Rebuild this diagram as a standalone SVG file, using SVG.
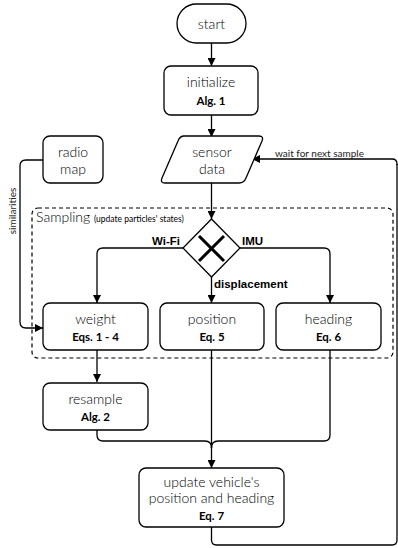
<svg xmlns="http://www.w3.org/2000/svg" width="398" height="548" viewBox="0 0 398 548">
<style>
.box{fill:#fff;stroke:#000;stroke-width:1.3}
.t{font-family:Lato,"Open Sans",sans-serif;font-size:14px;font-weight:300;fill:#000;text-anchor:middle}
.b{font-family:Lato,"Open Sans",sans-serif;font-size:11.5px;font-weight:700;fill:#000;text-anchor:middle}
.lbl{font-family:"Liberation Sans",Arial,sans-serif;font-size:11.5px;font-weight:700;fill:#000}
.sm{font-family:Lato,"Open Sans",sans-serif;font-size:10px;fill:#222}
.c{fill:none;stroke:#000;stroke-width:1.3}
</style>
<defs>
<marker id="ah" viewBox="0 0 10 10" refX="10" refY="5" markerWidth="8" markerHeight="8" markerUnits="userSpaceOnUse" orient="auto">
<path d="M0,0 L10,5 L0,10 z" fill="#000"/>
</marker>
</defs>
<rect id="sampling" x="32" y="208" width="361" height="150" rx="6" fill="none" stroke="#000" stroke-width="1.2" stroke-dasharray="4,3"/>
<text x="36" y="222" font-family="Lato,'Open Sans',sans-serif" font-size="14" font-weight="300">Sampling <tspan font-size="8.5" font-weight="400">(update particles' states)</tspan></text>
<g id="connectors">
<path class="c" d="M211.5,43 V66" marker-end="url(#ah)"/>
<path class="c" d="M211.5,115 V137" marker-end="url(#ah)"/>
<path class="c" d="M211.5,183 V219" marker-end="url(#ah)"/>
<path class="c" d="M397,165 V164 Q397,159 392,159 H252" marker-end="url(#ah)"/>
<path class="c" d="M211.5,527 V540 Q211.5,545 216.5,545 H392 Q397,545 397,540 V164"/>
<path class="c" d="M43,160 H26 Q20,160 20,166 V322 Q20,328 26,328 H43" marker-end="url(#ah)"/>
<path class="c" d="M183,248 H103 Q97,248 97,254 V303" marker-end="url(#ah)"/>
<path class="c" d="M240,248 H324 Q330,248 330,254 V303" marker-end="url(#ah)"/>
<path class="c" d="M211.5,277 V303" marker-end="url(#ah)"/>
<path class="c" d="M97,350 V382" marker-end="url(#ah)"/>
<path class="c" d="M97,430 V435 Q97,441 103,441 H205 Q211.5,441 211.5,448"/>
<path class="c" d="M330,350 V435 Q330,441 324,441 H218 Q211.5,441 211.5,448"/>
<path class="c" d="M211.5,350 V468" marker-end="url(#ah)"/>
<text class="sm" x="275" y="157">wait for next sample</text>
<text class="sm" transform="translate(16,211) rotate(-90)" text-anchor="middle">similarities</text>
<text class="lbl" x="180" y="245" text-anchor="end">Wi-Fi</text>
<text class="lbl" x="242" y="245">IMU</text>
<text class="lbl" x="214" y="288">displacement</text>
</g>
<g id="start">
<rect class="box" x="177" y="4" width="69" height="39" rx="19.5"/>
<text class="t" x="211.5" y="29">start</text>
</g>
<g id="initialize">
<rect class="box" x="164" y="66" width="94" height="49" rx="7"/>
<text class="t" x="211" y="87">initialize</text>
<text class="b" x="211" y="105">Alg. 1</text>
</g>
<g id="sensor">
<path class="box" d="M184,136 H259 Q264,136 262,141 L246,178 Q244,183 239,183 H165 Q160,183 162,178 L178,141 Q180,136 184,136 Z"/>
<text class="t" x="212" y="157">sensor</text>
<text class="t" x="212" y="174">data</text>
</g>
<g id="radio">
<rect class="box" x="43" y="136" width="60" height="47" rx="7"/>
<text class="t" x="73" y="157">radio</text>
<text class="t" x="73" y="174">map</text>
</g>
<g id="gateway">
<path class="box" d="M211.5,219 L240,248 L211.5,277 L183,248 Z"/>
<path d="M199,236 L224,261 M224,236 L199,261" stroke="#000" stroke-width="3" fill="none"/>
</g>
<g id="weight">
<rect class="box" x="43" y="303" width="105" height="47" rx="7"/>
<text class="t" x="95.5" y="324">weight</text>
<text class="b" x="95.5" y="341">Eqs. 1 - 4</text>
</g>
<g id="position">
<rect class="box" x="160" y="303" width="104" height="47" rx="7"/>
<text class="t" x="212" y="324">position</text>
<text class="b" x="212" y="341">Eq. 5</text>
</g>
<g id="heading">
<rect class="box" x="276" y="303" width="105" height="47" rx="7"/>
<text class="t" x="328.5" y="324">heading</text>
<text class="b" x="328.5" y="341">Eq. 6</text>
</g>
<g id="resample">
<rect class="box" x="43" y="383" width="105" height="47" rx="7"/>
<text class="t" x="95.5" y="404">resample</text>
<text class="b" x="95.5" y="421">Alg. 2</text>
</g>
<g id="update">
<rect class="box" x="139" y="468" width="145" height="59" rx="7"/>
<text class="t" x="211.5" y="487">update vehicle's</text>
<text class="t" x="211.5" y="503">position and heading</text>
<text class="b" x="211.5" y="520">Eq. 7</text>
</g>
</svg>
